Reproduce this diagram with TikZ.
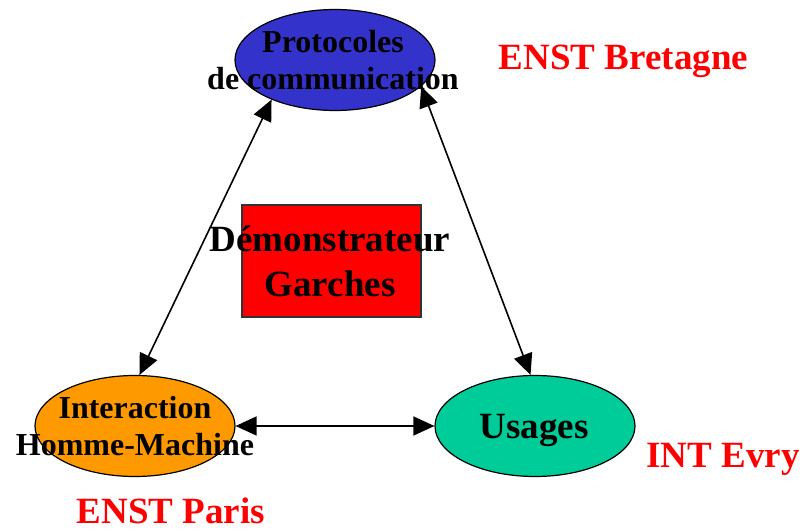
\documentclass[tikz,border=0pt]{standalone}
\usepackage{fontspec}
\setmainfont{Liberation Serif}
\usetikzlibrary{arrows.meta,shapes}
\definecolor{protoblue}{HTML}{3333CC}
\definecolor{ihmorange}{HTML}{FF9900}
\definecolor{usagegreen}{HTML}{00CC99}
\tikzset{
        >={Triangle[length=21bp,width=19bp]}, % big filled arrow heads
        theme/.style={ellipse, draw=black, line width=1.2bp, minimum width=200bp, minimum height=101bp}, % the three themes
        theme text/.style={font=\bfseries\fontsize{32bp}{37bp}\selectfont, align=center, inner sep=0pt},
        site/.style={text=red, font=\bfseries\fontsize{37bp}{43bp}\selectfont, anchor=base, inner sep=0pt}, % school names
        link/.style={<->, line width=1.6bp},
    }

\begin{document}
\begin{tikzpicture}[x=1bp, y=-1bp]
    \useasboundingbox (0,0) rectangle (803,532);
    % themes
    \node [theme, fill=protoblue] (proto) at (335,60) {};
    \node [theme, fill=ihmorange] (ihm) at (135,426) {};
    \node [theme, fill=usagegreen] (usages) at (535,426) {};
    \node [draw=black!80, fill=red, line width=1.5bp, minimum width=179bp, minimum height=112bp] (demo) at (331.5,261) {};
    % texts
    \node [theme text] (proto-txt) at (333,60.5) {Protocoles\\de communication};
    \node [theme text] (ihm-txt) at (135,426) {Interaction\\Homme-Machine};
    \node [theme text, font=\bfseries\fontsize{37bp}{45bp}\selectfont] (demo-txt) at (330,261) {Démonstrateur\\Garches};
    \node [theme text, font=\bfseries\fontsize{37bp}{43bp}\selectfont, anchor=base] (usages-txt) at (534,438) {Usages};
    \node [site] (bretagne) at (623.5,70) {ENST Bretagne};
    \node [site] (evry) at (723,467) {INT Evry};
    \node [site] (paris) at (171,523) {ENST Paris};
    % links
    \draw [link] (proto.212) -- (ihm.85);
    \draw [link] (proto.343) -- (usages.95);
    \draw [link] (ihm.east) -- (usages.west);
\end{tikzpicture}
\end{document}
